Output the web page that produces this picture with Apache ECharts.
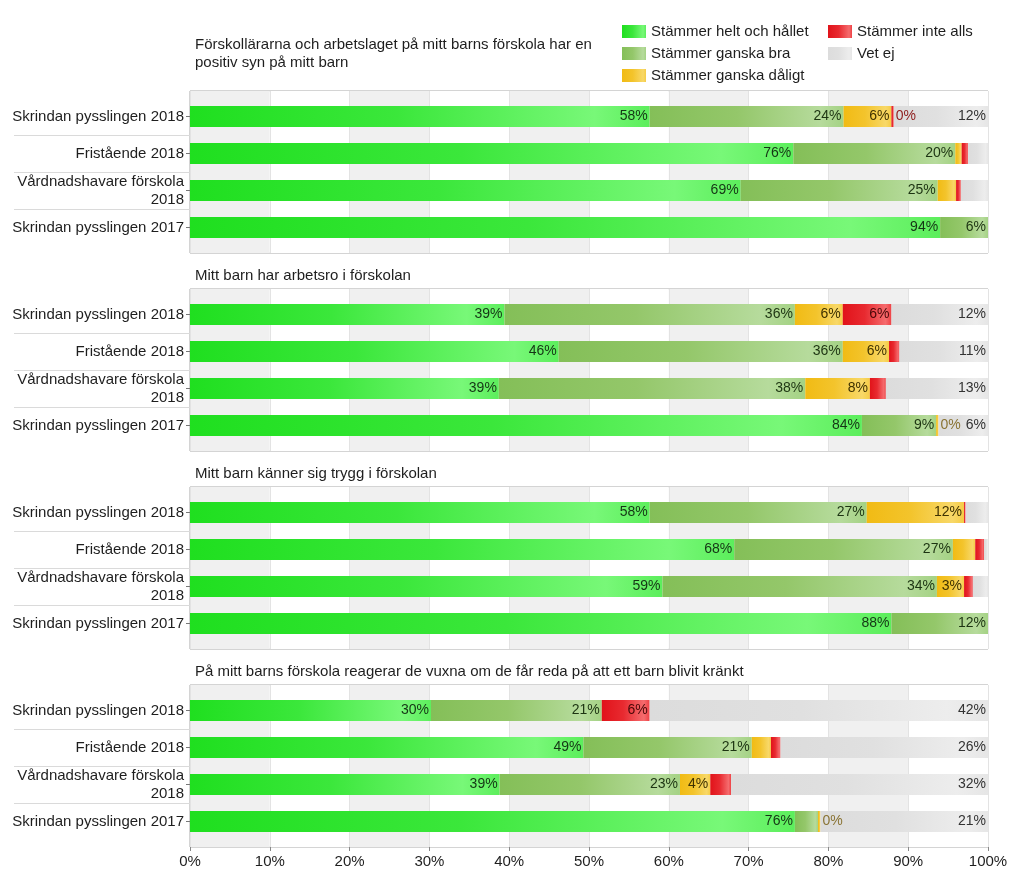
<!DOCTYPE html>
<html><head><meta charset="utf-8">
<script src="https://cdn.jsdelivr.net/npm/echarts@6/dist/echarts.min.js"></script>
<style>html,body{margin:0;padding:0;background:#fff}#c{width:1024px;height:881px}</style>
</head><body><div id="c"></div>
<script>
// ---- data ----
const categories = ['Skrindan pysslingen 2018', 'Fristående 2018', 'Vårdnadshavare förskola\n2018', 'Skrindan pysslingen 2017'];
const panelTitles = [
  'Förskollärarna och arbetslaget på mitt barns förskola har en\npositiv syn på mitt barn',
  'Mitt barn har arbetsro i förskolan',
  'Mitt barn känner sig trygg i förskolan',
  'På mitt barns förskola reagerar de vuxna om de får reda på att ett barn blivit kränkt'
];
const seriesNames = ['Stämmer helt och hållet', 'Stämmer ganska bra', 'Stämmer ganska dåligt', 'Stämmer inte alls', 'Vet ej'];
const xTicks = [0, 10, 20, 30, 40, 50, 60, 70, 80, 90, 100];
// one array per answer, one row per panel, one value per category (percent)
const heltOchHallet  = [[57.6, 75.6, 69.0, 94.0], [39.4, 46.2, 38.7, 84.2], [57.6, 68.2, 59.2, 87.9], [30.2, 49.3, 38.8, 75.8]];
const ganskaBra      = [[24.3, 20.3, 24.7, 6.0],  [36.4, 35.6, 38.4, 9.3],  [27.2, 27.4, 34.4, 12.1], [21.4, 21.1, 22.6, 2.9]];
const ganskaDaligt   = [[6.0, 0.8, 2.3, 0],       [6.0, 5.8, 8.1, 0.3],     [12.2, 2.8, 3.4, 0],      [0, 2.4, 3.8, 0.3]];
const inteAlls       = [[0.3, 0.8, 0.6, 0],       [6.1, 1.3, 2.0, 0],       [0.2, 1.1, 1.1, 0],       [6.0, 1.2, 2.6, 0]];
const vetEj          = [[11.8, 2.5, 3.4, 0],      [12.1, 11.1, 12.8, 6.2],  [2.8, 0.5, 1.9, 0],       [42.4, 26.0, 32.2, 21.0]];
const allSeries = [heltOchHallet, ganskaBra, ganskaDaligt, inteAlls, vetEj];

// ---- styles ----
const FONT = '"Liberation Sans", Arial, sans-serif';
const TXT = '#1e1e1e';
const OFFS = [0, 0.45, 0.88, 1];
function grad(stops) {
  return new echarts.graphic.LinearGradient(0, 0, 1, 0,
    stops.map((c, i) => ({ offset: OFFS[i], color: c })));
}
const fills = [
  ['#1fdf1f', '#3be73b', '#78f878', '#5cee5c'],
  ['#84bf58', '#94c76a', '#b6db9c', '#a4d284'],
  ['#f1bb14', '#f3c42c', '#f8d868', '#f5cc46'],
  ['#e1131a', '#e82a30', '#f56c6e', '#ee4044'],
  ['#dcdcdc', '#e0e0e0', '#ededed', '#e6e6e6']
];
const labelColors = ['#153515', '#1d3412', '#3f3200', '#4a0808', '#333333'];
const zeroColors = ['#155015', '#1d3412', '#8a7434', '#8e1c1c', '#333333'];
const minLabel = [2.95, 2.95, 2.95, 2.95, 4];

const P = 4;
const gridTop = p => 91 + 198 * p;
const grids = [], xAxes = [], yAxes = [], series = [], titles = [];
// outer frames
for (let p = 0; p < P; p++) {
  grids.push({ left: 190, width: 798, top: gridTop(p), height: 162, show: true, borderColor: '#a9a9a9', borderWidth: 1 });
}
// inner plot areas
for (let p = 0; p < P; p++) {
  grids.push({ left: 190, width: 798, top: gridTop(p) + 7, height: 148 });
}
// separator areas (inner category boundaries)
for (let p = 0; p < P; p++) {
  grids.push({ left: 190, width: 798, top: gridTop(p) + 7 + 37, height: 74 });
}
for (let p = 0; p < P; p++) {
  xAxes.push({
    type: 'value', gridIndex: p, min: 0, max: 100, interval: 10,
    splitArea: { show: true, areaStyle: { color: ['#f0f0f0', '#ffffff'] } },
    splitLine: { show: true, lineStyle: { color: '#e3e3e3' } },
    axisLine: { show: false },
    axisTick: { show: p === P - 1, length: 4, lineStyle: { color: '#888' } },
    axisLabel: { show: p === P - 1, margin: 7, fontSize: 15, color: TXT, fontFamily: FONT,
      formatter: v => (xTicks.indexOf(v) >= 0 ? v + '%' : '') }
  });
  yAxes.push({ type: 'value', gridIndex: p, show: false });
}
for (let p = 0; p < P; p++) {
  xAxes.push({ type: 'value', gridIndex: P + p, min: 0, max: 100, show: false });
}
for (let p = 0; p < P; p++) {
  xAxes.push({ type: 'value', gridIndex: 2 * P + p, min: 0, max: 100, show: false });
}
for (let p = 0; p < P; p++) {
  yAxes.push({
    type: 'category', gridIndex: P + p, data: categories, inverse: true, position: 'left',
    axisLine: { show: false },
    axisTick: { show: true, alignWithLabel: true, length: 4, lineStyle: { color: '#777' } },
    axisLabel: { margin: 6, fontSize: 15, color: TXT, fontFamily: FONT, lineHeight: 18, align: 'right' }
  });
}
for (let p = 0; p < P; p++) {
  yAxes.push({
    type: 'category', gridIndex: 2 * P + p, data: ['', ''], inverse: true, position: 'left',
    axisLine: { show: false }, axisLabel: { show: false },
    axisTick: { show: true, alignWithLabel: false, length: 176, lineStyle: { color: '#dadada' } }
  });
}
for (let p = 0; p < P; p++) {
  titles.push({ text: panelTitles[p], left: 195, top: p === 0 ? 36 : gridTop(p) - 22, padding: 0,
    textStyle: { fontSize: 15, fontWeight: 'normal', color: TXT, fontFamily: FONT, lineHeight: 18 } });
  for (let s = 0; s < seriesNames.length; s++) {
    const vals = allSeries[s][p];
    const data = vals.map((v, i) => {
      const rest = vetEj[p][i];
      const tiny = v > 0 && v < 0.5 && rest >= 5;
      return {
        value: v,
        label: {
          show: v >= minLabel[s] || tiny,
          position: tiny ? 'right' : 'insideRight',
          distance: 2,
          color: tiny ? zeroColors[s] : labelColors[s]
        }
      };
    });
    series.push({
      type: 'bar', name: seriesNames[s], stack: 'panel' + p,
      xAxisIndex: P + p, yAxisIndex: P + p, barWidth: 21,
      itemStyle: { color: grad(fills[s]) },
      label: { fontSize: 14, fontFamily: FONT, formatter: d => Math.round(d.value) + '%' },
      emphasis: { disabled: true },
      data
    });
  }
}
const legendBase = {
  orient: 'vertical', itemWidth: 24, itemHeight: 13, itemGap: 7, top: 24, padding: 0,
  selectedMode: false, icon: 'rect',
  textStyle: { fontSize: 15, color: TXT, fontFamily: FONT }
};
const chart = echarts.init(document.getElementById('c'), null, { renderer: 'canvas' });
chart.setOption({
  animation: false,
  backgroundColor: '#ffffff',
  title: titles,
  legend: [
    Object.assign({}, legendBase, { left: 622, data: seriesNames.slice(0, 3) }),
    Object.assign({}, legendBase, { left: 828, data: seriesNames.slice(3) })
  ],
  grid: grids, xAxis: xAxes, yAxis: yAxes, series
});
</script></body></html>
